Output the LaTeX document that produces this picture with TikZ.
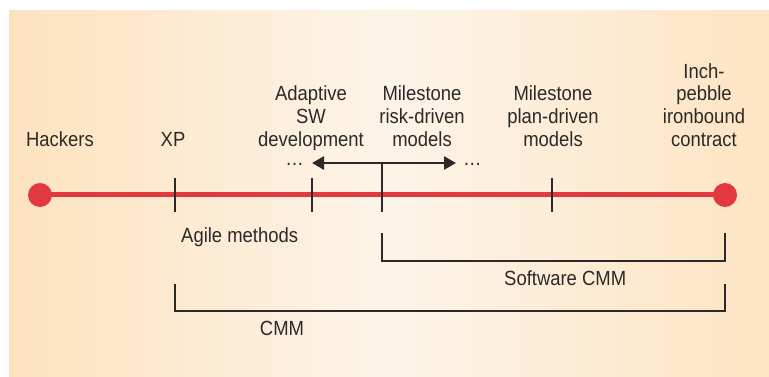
\documentclass[tikz,border=0pt]{standalone}
\usepackage{fontspec}
\setmainfont[FakeStretch=0.9]{Liberation Sans}
\usetikzlibrary{arrows.meta}
\definecolor{ink}{HTML}{2B2A29}
\definecolor{redl}{HTML}{E2383F}
\definecolor{bgl}{HTML}{FDE2BF}
\definecolor{bgm}{HTML}{FDF4E8}
\definecolor{bgr}{HTML}{FDE4C3}
\begin{document}
\begin{tikzpicture}[x=1pt,y=-1pt,
  lbl/.style={font=\fontsize{20.5}{23}\selectfont, text=ink, inner sep=0pt, align=center, anchor=base},
  enddot/.style={circle, fill=redl, minimum size=24pt, inner sep=0pt},
  redline/.style={draw=redl, line width=5pt},
  tickmark/.style={draw=ink, line width=2pt},
  bracket/.style={draw=ink, line width=2.4pt},
  dblarrow/.style={draw=ink, line width=2.6pt, {Triangle[length=12pt,width=13pt]}-{Triangle[length=12pt,width=13pt]}}
]
\useasboundingbox (0,0) rectangle (769,377);
\shade[left color=bgl, right color=bgr, middle color=bgm] (9,11) rectangle (769,377);

% main line
\coordinate (hackc) at (40,195);
\coordinate (inchc) at (725,195);
\draw[redline] (hackc) -- (inchc);
\node[enddot] (hackdot) at (hackc) {};
\node[enddot] (inchdot) at (inchc) {};

% ticks
\coordinate (xpT) at (175,178);   \coordinate (xpB) at (175,212);
\coordinate (adT) at (312,178);   \coordinate (adB) at (312,212);
\coordinate (riT) at (382,163);   \coordinate (riB) at (382,212);
\coordinate (plT) at (552,178);   \coordinate (plB) at (552,212);
\draw[tickmark] (xpT) -- (xpB);
\draw[tickmark] (adT) -- (adB);
\draw[tickmark] (riT) -- (riB);
\draw[tickmark] (plT) -- (plB);

% double arrow
\coordinate (arL) at (312,163);
\coordinate (arR) at (456,163);
\draw[dblarrow] (arL) -- (arR);
\node[lbl, anchor=base east] (ellL) at (304,166) {…};
\node[lbl, anchor=base west] (ellR) at (463,166) {…};

% labels above (base = baseline of last line)
\node[lbl] (hack) at (60,147) {Hackers};
\node[lbl] (xp) at (173,147) {XP};
\node[lbl] (adapt) at (311,147) {Adaptive\\SW\\development};
\node[lbl] (risk) at (422,147) {Milestone\\risk-driven\\models};
\node[lbl] (plan) at (553,147) {Milestone\\plan-driven\\models};
\node[lbl] (inch) at (704,147) {Inch-\\pebble\\ironbound\\contract};

% labels below
\node[lbl, anchor=base west] (agile) at (181,242.5) {Agile methods};

% Software CMM bracket
\coordinate (swA) at (382,233);
\coordinate (swB) at (382,261);
\coordinate (swC) at (725,261);
\coordinate (swD) at (725,233);
\draw[bracket] (swA) -- (swB) -- (swC) -- (swD);
\node[lbl, anchor=base west] (swcmm) at (504,285) {Software CMM};

% CMM bracket
\coordinate (cmA) at (175,284);
\coordinate (cmB) at (175,311);
\coordinate (cmC) at (725,311);
\coordinate (cmD) at (725,284);
\draw[bracket] (cmA) -- (cmB) -- (cmC) -- (cmD);
\node[lbl] (cmm) at (282,335) {CMM};
\end{tikzpicture}
\end{document}
